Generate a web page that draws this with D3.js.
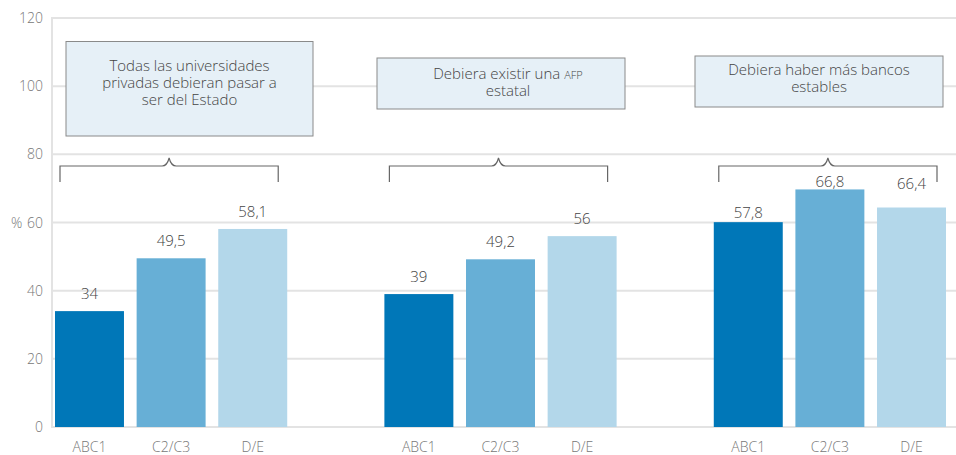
<!DOCTYPE html>
<html>
<head>
<meta charset="utf-8">
<script src="https://cdn.jsdelivr.net/npm/d3@7"></script>
<style>
  body { margin: 0; background: #fff; }
  svg { display: block; font-family: "Open Sans", "Noto Sans", sans-serif; font-weight: 300; }
</style>
</head>
<body>
<svg id="chart"></svg>
<script>
// data
const groups = ["g1", "g2", "g3"];
const segments = ["ABC1", "C2/C3", "D/E"];
const valueLabels = [["34", "49,5", "58,1"], ["39", "49,2", "56"], ["57,8", "66,8", "66,4"]];
const labelValues = [[34, 49.5, 58.1], [39, 49.2, 56], [57.8, 66.8, 66.4]];
// bar heights as drawn in the picture (third group differs from its labels)
const barValues = [[34, 49.5, 58.1], [39, 49.2, 56], [60.1, 69.7, 64.4]];
const titles = [
    ["Todas las universidades", "privadas debieran pasar a", "ser del Estado"],
    ["Debiera existir una |AFP", "estatal"],
    ["Debiera haber más bancos", "estables"]
];
const yTicks = [0, 20, 40, 60, 80, 100, 120];
const colors = ["#0077b8", "#67afd6", "#b3d7ea"];

const width = 956;
const height = 455;

const svg = d3.select("#chart")
    .attr("width", width)
    .attr("height", height);

const y = d3.scaleLinear()
    .domain([0, 120])
    .range([427, 18]);

const x0 = d3.scaleBand()
    .domain(groups)
    .range([55, 946])
    .paddingInner(0.295)
    .paddingOuter(0);

const x1 = d3.scaleBand()
    .domain(segments)
    .range([0, x0.bandwidth()])
    .paddingInner(0.155)
    .paddingOuter(0);

// gridlines
svg.append("g")
    .selectAll("line")
    .data(yTicks)
    .join("line")
    .attr("x1", 52)
    .attr("x2", width)
    .attr("y1", d => y(d))
    .attr("y2", d => y(d))
    .attr("stroke", "#e3e3e3")
    .attr("stroke-width", 2);

// left axis line
svg.append("line")
    .attr("x1", 52).attr("x2", 52)
    .attr("y1", y(120) - 1).attr("y2", y(0) + 1)
    .attr("stroke", "#e3e3e3")
    .attr("stroke-width", 2);

// tick labels
svg.append("g")
    .selectAll("text")
    .data(yTicks)
    .join("text")
    .attr("x", 43)
    .attr("y", d => y(d) + 5)
    .attr("text-anchor", "end")
    .attr("font-size", 14)
    .attr("fill", "#777")
    .text(d => d);

svg.append("text")
    .attr("x", 11)
    .attr("y", y(60) + 5)
    .attr("font-size", 14)
    .attr("fill", "#777")
    .text("%");

// bars
const gGroups = svg.append("g")
    .selectAll("g")
    .data(groups)
    .join("g")
    .attr("transform", d => `translate(${x0(d)},0)`);

gGroups.selectAll("rect")
    .data((d, gi) => segments.map((s, i) => ({ s, i, v: barValues[gi][i] })))
    .join("rect")
    .attr("x", d => x1(d.s))
    .attr("y", d => y(d.v))
    .attr("width", x1.bandwidth())
    .attr("height", d => y(0) - y(d.v))
    .attr("fill", d => colors[d.i]);

// value labels
gGroups.selectAll("text.val")
    .data((d, gi) => segments.map((s, i) => ({ s, t: valueLabels[gi][i], v: labelValues[gi][i] })))
    .join("text")
    .attr("class", "val")
    .attr("x", d => x1(d.s) + x1.bandwidth() / 2)
    .attr("y", d => y(d.v) - 12)
    .attr("text-anchor", "middle")
    .attr("font-size", 15)
    .attr("fill", "#444")
    .text(d => d.t);

// category labels
gGroups.selectAll("text.cat")
    .data(segments)
    .join("text")
    .attr("class", "cat")
    .attr("x", d => x1(d) + x1.bandwidth() / 2)
    .attr("y", 452)
    .attr("text-anchor", "middle")
    .attr("font-size", 14)
    .attr("fill", "#777")
    .text(d => d);

// braces
const braceTop = 166;
const braceBottom = 182;
gGroups.append("path")
    .attr("d", () => {
        const a = 5, b = x0.bandwidth() - 9;
        const c = (a + b) / 2;
        return `M${a},${braceBottom} V${braceTop} H${c - 7} Q${c - 2},${braceTop} ${c},${braceTop - 8} Q${c + 2},${braceTop} ${c + 7},${braceTop} H${b} V${braceBottom}`;
    })
    .attr("fill", "none")
    .attr("stroke", "#666")
    .attr("stroke-width", 1.2);

// title boxes
const boxes = [
    { x: 66, y: 41.5, w: 247, h: 94.5, tx: 0, base: 71 },
    { x: 377, y: 58, w: 248, h: 51, tx: 7, base: 79 },
    { x: 695, y: 56, w: 248, h: 51, tx: 0, base: 75 }
];

boxes.forEach((b, gi) => {
    svg.append("rect")
        .attr("x", b.x)
        .attr("y", b.y)
        .attr("width", b.w)
        .attr("height", b.h)
        .attr("fill", "#e6f0f7")
        .attr("stroke", "#8a8a8a")
        .attr("stroke-width", 1);

    const t = svg.append("text")
        .attr("text-anchor", "middle")
        .attr("font-size", 15)
        .attr("fill", "#444");

    titles[gi].forEach((line, li) => {
        const parts = line.split("|");
        t.append("tspan")
            .attr("x", b.x + b.w / 2 + b.tx)
            .attr("y", b.base + li * 16.8)
            .text(parts[0]);
        if (parts[1]) {
            t.append("tspan")
                .attr("font-size", 11)
                .text(parts[1]);
        }
    });
});
</script>
</body>
</html>
